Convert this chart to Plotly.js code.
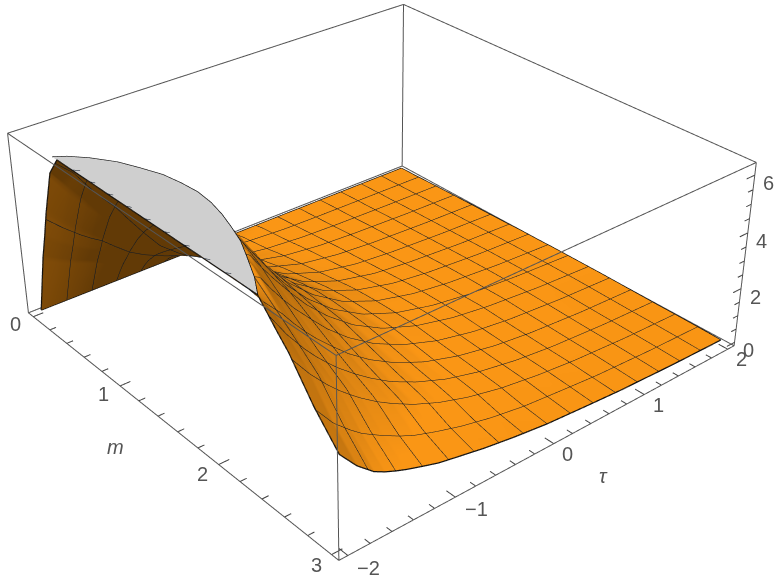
<!DOCTYPE html>
<html>
<head>
<meta charset="utf-8">
<script src="https://cdn.plot.ly/plotly-3.0.1.min.js"></script>
<style>
  html, body { margin: 0; padding: 0; background: #fff; }
  #frame { position: relative; width: 780px; height: 582px; overflow: hidden; }
  #plot { position: absolute; left: -124px; top: -489px; width: 1000px; height: 1460px; }
</style>
</head>
<body>
<div id="frame"><div id="plot"></div></div>
<script>
const mGrid = [0, 0.05, 0.1, 0.15, 0.2, 0.3, 0.4, 0.5, 0.65, 0.8, 0.95, 1.1, 1.25, 1.4, 1.55, 1.7, 1.85, 2, 2.35, 2.5, 2.6, 2.8, 3];
const tauGrid = [-2, -1.85, -1.7, -1.6, -1.5, -1.4, -1.25, -1.1, -0.9, -0.65, -0.35, 0, 0.4, 0.8, 1.4, 2];
// nodes under the clipped top are kept a little lower so the mesh stays below it
const zGrid = [
  [0, 1.11, 2.22, 3.10, 4.06, 5.69, 6.34, 6.34, 6.34, 6.34, 6.34, 6.34, 6.34, 6.34, 6.34, 6.34, 6.34, 6.34, 6.34, 5.62, 5.17, 4.00, 3.05],
  [0, 0.95, 1.91, 2.67, 3.50, 4.90, 5.91, 6.15, 6.00, 6.00, 6.00, 6.00, 6.00, 6.00, 6.00, 6.00, 6.00, 6.15, 5.41, 4.83, 4.45, 3.30, 2.40],
  [0, 0.82, 1.64, 2.30, 3.01, 4.22, 5.09, 5.75, 6.15, 6.00, 6.00, 6.00, 6.00, 6.00, 6.00, 6.00, 6.15, 5.97, 4.65, 4.16, 3.83, 2.80, 1.92],
  [0, 0.74, 1.49, 2.08, 2.72, 3.81, 4.61, 5.20, 5.89, 6.15, 6.15, 6.00, 6.00, 6.00, 6.15, 6.15, 5.94, 5.40, 4.21, 3.76, 3.47, 2.50, 1.72],
  [0, 0.67, 1.34, 1.88, 2.47, 3.45, 4.17, 4.71, 5.33, 5.83, 6.05, 6.12, 6.15, 6.12, 6.00, 5.74, 5.38, 4.89, 3.81, 3.41, 3.14, 2.27, 1.56],
  [0, 0.58, 1.16, 1.62, 2.12, 2.96, 3.62, 4.13, 4.73, 5.27, 5.60, 5.80, 5.88, 5.76, 5.51, 5.19, 4.87, 4.42, 3.45, 3.08, 2.84, 2.05, 1.42],
  [0, 0.47, 0.89, 1.25, 1.63, 2.29, 2.83, 3.26, 3.78, 4.22, 4.53, 4.74, 4.86, 4.81, 4.66, 4.38, 4.15, 3.80, 2.97, 2.65, 2.44, 1.75, 1.24],
  [0, 0.38, 0.72, 1.00, 1.28, 1.70, 2.09, 2.46, 2.93, 3.32, 3.61, 3.83, 3.97, 3.97, 3.84, 3.66, 3.49, 3.20, 2.52, 2.28, 2.10, 1.50, 1.07],
  [0, 0.30, 0.55, 0.74, 0.92, 1.20, 1.45, 1.70, 2.08, 2.40, 2.64, 2.85, 3.00, 3.04, 2.98, 2.87, 2.77, 2.55, 2.03, 1.83, 1.70, 1.25, 0.92],
  [0, 0.20, 0.36, 0.46, 0.55, 0.72, 0.89, 1.09, 1.35, 1.62, 1.80, 1.97, 2.11, 2.18, 2.17, 2.11, 2.05, 1.90, 1.55, 1.42, 1.31, 0.98, 0.74],
  [0, 0.13, 0.22, 0.27, 0.31, 0.40, 0.51, 0.66, 0.83, 1.01, 1.14, 1.26, 1.38, 1.45, 1.47, 1.46, 1.43, 1.35, 1.11, 1.03, 0.96, 0.73, 0.57],
  [0, 0.07, 0.12, 0.15, 0.18, 0.24, 0.30, 0.39, 0.49, 0.59, 0.68, 0.77, 0.87, 0.92, 0.95, 0.96, 0.96, 0.90, 0.77, 0.71, 0.67, 0.52, 0.41],
  [0, 0.03, 0.05, 0.07, 0.09, 0.13, 0.18, 0.23, 0.30, 0.35, 0.40, 0.46, 0.52, 0.57, 0.60, 0.61, 0.62, 0.58, 0.50, 0.47, 0.45, 0.38, 0.30],
  [0, 0.02, 0.03, 0.05, 0.06, 0.09, 0.12, 0.16, 0.20, 0.23, 0.27, 0.31, 0.35, 0.38, 0.40, 0.40, 0.42, 0.39, 0.33, 0.31, 0.30, 0.25, 0.20],
  [0, 0.01, 0.02, 0.03, 0.04, 0.05, 0.07, 0.09, 0.11, 0.13, 0.15, 0.17, 0.19, 0.21, 0.22, 0.23, 0.23, 0.22, 0.18, 0.17, 0.16, 0.14, 0.11],
  [0, 0.01, 0.01, 0.01, 0.02, 0.03, 0.04, 0.05, 0.06, 0.07, 0.08, 0.09, 0.11, 0.11, 0.12, 0.12, 0.12, 0.12, 0.10, 0.09, 0.09, 0.08, 0.06]
];

// edge of the clipped top
const capM = [0.35, 0.4, 0.5, 0.65, 0.8, 0.95, 1.1, 1.25, 1.4, 1.55, 1.7, 1.85, 2, 2.2, 2.35];
const capTau = [-2, -1.91, -1.79, -1.66, -1.58, -1.51, -1.48, -1.466, -1.486, -1.53, -1.59, -1.657, -1.75, -1.88, -2];
const capLevel = 6.34;

const mRange = [-0.06, 3.06];
const tauRange = [-2.08, 2.08];
const zRange = [-0.13, 6.43];

const mMajor = [0, 1, 2, 3];
const mMinor = [0.2, 0.4, 0.6, 0.8, 1.2, 1.4, 1.6, 1.8, 2.2, 2.4, 2.6, 2.8];
const tauMajor = [-2, -1, 0, 1, 2];
const tauMinor = [-1.8, -1.6, -1.4, -1.2, -0.8, -0.6, -0.4, -0.2, 0.2, 0.4, 0.6, 0.8, 1.2, 1.4, 1.6, 1.8];
const zMajor = [0, 2, 4, 6];
const zMinor = [0.5, 1, 1.5, 2.5, 3, 3.5, 4.5, 5, 5.5];

const [m0, m1] = mRange, [t0, t1] = tauRange, [z0, z1] = zRange;

// box edges
const boxX = [], boxY = [], boxZ = [];
function seg(xs, ys, zs, a, b) {
    xs.push(a[0], b[0], null); ys.push(a[1], b[1], null); zs.push(a[2], b[2], null);
}
[[m0, t0], [m1, t0], [m1, t1], [m0, t1]].forEach(function (c, i, all) {
    const n = all[(i + 1) % 4];
    seg(boxX, boxY, boxZ, [c[0], c[1], z0], [n[0], n[1], z0]);
    seg(boxX, boxY, boxZ, [c[0], c[1], z1], [n[0], n[1], z1]);
    seg(boxX, boxY, boxZ, [c[0], c[1], z0], [c[0], c[1], z1]);
});

// tick marks
const tickX = [], tickY = [], tickZ = [];
function addTicks(list, len) {
    list.m.forEach(v => seg(tickX, tickY, tickZ, [v, t0, z0], [v, t0 + len * 4, z0]));
    list.t.forEach(v => seg(tickX, tickY, tickZ, [m1, v, z0], [m1 - len * 3, v, z0]));
    list.z.forEach(v => seg(tickX, tickY, tickZ, [m1, t1, v], [m1, t1 - len * 4, v]));
}
addTicks({ m: mMajor, t: tauMajor, z: zMajor }, 0.024);
addTicks({ m: mMinor, t: tauMinor, z: zMinor }, 0.015);

// black outline of the sheet
const rimX = [], rimY = [], rimZ = [];
mGrid.forEach((m, i) => { rimX.push(m); rimY.push(tauGrid[0]); rimZ.push(zGrid[0][i]); });
tauGrid.forEach((t, j) => { rimX.push(mGrid[mGrid.length - 1]); rimY.push(t); rimZ.push(zGrid[j][mGrid.length - 1]); });
rimX.push(null); rimY.push(null); rimZ.push(null);
mGrid.forEach((m, i) => { rimX.push(m); rimY.push(tauGrid[tauGrid.length - 1]); rimZ.push(zGrid[tauGrid.length - 1][i]); });
rimX.push(null); rimY.push(null); rimZ.push(null);
tauGrid.forEach((t, j) => { rimX.push(mGrid[0]); rimY.push(t); rimZ.push(zGrid[j][0]); });

const orange = [[0, '#f4900f'], [1, '#f4900f']];
const traces = [
    {
        type: 'surface', x: mGrid, y: tauGrid, z: zGrid,
        colorscale: orange, showscale: false, hoverinfo: 'skip',
        lighting: { ambient: 0.4, diffuse: 0.7, specular: 0.05, roughness: 0.9, fresnel: 0 },
        lightposition: { x: 3000, y: -3000, z: 10000 },
        contours: {
            x: { show: true, start: 0, end: 3, size: 0.1875, color: '#0c1726', width: 3 },
            y: { show: true, start: -2, end: 2, size: 0.25, color: '#0c1726', width: 3 },
            z: { show: false }
        }
    },
    {
        type: 'mesh3d', x: capM, y: capTau, z: capM.map(() => capLevel), delaunayaxis: 'z',
        color: '#cfcfcf', hoverinfo: 'skip', flatshading: true,
        lighting: { ambient: 1, diffuse: 0, specular: 0 }
    },
    {
        type: 'scatter3d', mode: 'lines', x: capM, y: capTau, z: capM.map(() => capLevel),
        line: { color: '#111', width: 2.5 }, hoverinfo: 'skip', showlegend: false
    },
    {
        type: 'scatter3d', mode: 'lines', x: rimX, y: rimY, z: rimZ, connectgaps: false,
        line: { color: '#111', width: 2.5 }, hoverinfo: 'skip', showlegend: false
    },
    {
        type: 'scatter3d', mode: 'lines', x: boxX, y: boxY, z: boxZ, connectgaps: false,
        line: { color: '#555', width: 2 }, hoverinfo: 'skip', showlegend: false
    },
    {
        type: 'scatter3d', mode: 'lines', x: tickX, y: tickY, z: tickZ, connectgaps: false,
        line: { color: '#444', width: 2 }, hoverinfo: 'skip', showlegend: false
    }
];

const labelFont = { family: 'Liberation Sans, Arial, sans-serif', size: 20, color: '#555' };
function label(x, y, z, text, dx, dy) {
    return { x: x, y: y, z: z, text: text, showarrow: false, xshift: dx, yshift: -dy, font: labelFont };
}
const annotations = [].concat(
    mMajor.map(v => label(v, t0, z0, String(v), -15 - (3 - v), 7 + v)),
    tauMajor.map(v => label(m1, v, z0, String(v).replace('-', '\u2212'), v < 0 ? 21 : 14, v < 0 ? 12 : 10)),
    zMajor.map(v => label(m1, t1, v, String(v), 14, 8)),
    [label(1.5, t0, z0, '<i>m</i>', -52, 23), label(m1, 0, z0, '<i>\u03c4</i>', 50, 32)]
);

// the axis range sits a hair outside the box, otherwise the box edges get clipped away
function axis(range) {
    return {
        range: [range[0] - 0.006, range[1] + 0.006], autorange: false,
        showgrid: false, zeroline: false, showline: false,
        showticklabels: false, ticks: '', showbackground: false, showspikes: false,
        title: { text: '' }
    };
}

const layout = {
    width: 1000, height: 1460, margin: { l: 0, r: 0, t: 0, b: 0 },
    paper_bgcolor: '#fff', showlegend: false,
    scene: {
        domain: { x: [0, 1], y: [0, 1] },
        xaxis: axis(mRange), yaxis: axis(tauRange), zaxis: axis(zRange),
        aspectmode: 'manual', aspectratio: { x: 1, y: 1, z: 0.405 },
        camera: { eye: { x: 2.26, y: -1.9, z: 1.7 }, center: { x: 0, y: 0, z: 0 }, up: { x: 0, y: 0, z: 1 } },
        annotations: annotations
    }
};

Plotly.newPlot('plot', traces, layout, { displayModeBar: false });
</script>
</body>
</html>
